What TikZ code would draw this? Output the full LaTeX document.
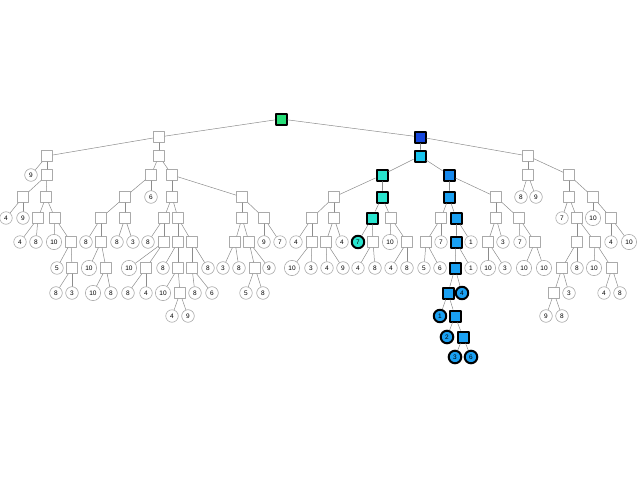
\documentclass[tikz,border=0pt]{standalone}
\usepackage{fontspec}
\setmainfont{Liberation Sans}
\definecolor{hgreen}{RGB}{38,222,120}
\definecolor{hnavy}{RGB}{22,72,222}
\definecolor{hcyan}{RGB}{24,196,238}
\definecolor{hteal}{RGB}{40,228,206}
\definecolor{hblue}{RGB}{26,160,242}
\definecolor{hdeep}{RGB}{22,136,236}
\definecolor{lgray}{RGB}{170,170,170}
\definecolor{egray}{RGB}{140,140,140}
\begin{document}
\begin{tikzpicture}[x=1pt, y=-1pt, line cap=round, line join=round,
    sq/.style={draw=lgray, line width=0.6pt, fill=white, minimum size=11pt, inner sep=0pt},
    hsq/.style={draw=black, line width=2pt, minimum size=11pt, inner sep=0pt},
    lf/.style={circle, draw=lgray, line width=0.6pt, fill=white, inner sep=2.4pt, minimum size=11pt, font=\fontsize{6.5}{7}\selectfont},
    hlf/.style={lf, draw=black, line width=2pt, minimum size=10pt},
    edge/.style={draw=egray, line width=0.5pt}]
    \useasboundingbox (0,0) rectangle (638,479);
    % highlighted path
    \node[hsq, fill=hgreen] (r) at (281,119) {};
    \node[hsq, fill=hnavy] (b) at (420,137) {};
    \node[hsq, fill=hcyan] (b1) at (420,156) {};
    \foreach \n/\x/\y in {t1/382/175, t2/382/197, t3/372/218}
        \node[hsq, fill=hteal] (\n) at (\x,\y) {};
    \node[hsq, fill=hdeep] (v1) at (449,175) {};
    \foreach \n/\x/\y in {v2/449/197, v3/456/218, v4/456/242, v5/455/268, v6/448/293, v7/455/316, v8/463/337}
        \node[hsq, fill=hblue] (\n) at (\x,\y) {};
    \node[hlf, fill=hteal] (lt3) at (358,242) {7};
    \foreach \n/\t/\x/\y in {lv5/4/462/293, lv6/1/440/316, lv7/2/447/337, lv8a/3/455/357, lv8b/6/471/357}
        \node[hlf, fill=hblue] (\n) at (\x,\y) {\t};
    % inner nodes
    \foreach \n/\x/\y in {a/159/137, a1/47/156, a2/159/156, b2/528/156,
        s1/47/175, s2/23/197, s3/46/197, s4/38/218, s5/55/218, s6/71/242, s7/72/268,
        p1/151/175, p2/125/197, p3/101/218, p4/101/242, p5/106/268, p6/125/218,
        q1/172/175, q2/172/197, q3/164/218, q4/164/242, q5/146/268, q6/178/218, q7/178/242,
        q8/192/242, q9/178/268, q10/180/293, q11/192/268, q12/242/197, q13/242/218,
        q14/235/242, q15/249/242, q16/255/268, q17/264/218,
        u1/334/197, u2/312/218, u3/312/242, u4/334/218, u5/326/242, u6/373/242, u7/391/218, u8/407/242,
        w1/441/218, w2/426/242,
        x1/496/197, x2/496/218, x3/488/242, x4/519/218, x5/535/242,
        y1/528/175, y2/569/175, y3/569/197, y4/577/218, y5/577/242, y6/595/242,
        y7/562/268, y8/554/293, y9/612/268, y10/593/197, y11/611/218}
        \node[sq] (\n) at (\x,\y) {};
    % leaves
    \foreach \n/\t/\x/\y in {la1/9/31/175, ls2a/4/6/218, ls2b/9/23/218, ls4a/4/20/242, ls4b/8/36/242,
        ls5/10/54/242, ls6/5/57/268, ls7a/8/56/293, ls7b/3/72/293,
        lp1/6/151/197, lp3/8/86/242, lp4/10/89/268, lp5a/10/93/293, lp5b/8/111/293, lp6a/8/117/242, lp6b/3/133/242,
        lq3/8/148/242, lq4/10/129/268, lq5a/8/128/293, lq5b/4/146/293, lq7/8/163/268, lq9/10/163/293,
        lq10a/4/172/316, lq10b/9/188/316, lq8/8/208/268, lq11a/8/195/293, lq11b/6/212/293,
        lq14a/3/223/268, lq14b/8/239/268, lq15/9/269/268, lq16a/5/246/293, lq16b/8/263/293,
        lq17a/9/264/242, lq17b/7/280/242,
        lu2/4/296/242, lu3a/10/292/268, lu3b/3/311/268, lu4/4/342/242, lu5a/4/327/268, lu5b/9/343/268,
        lu6a/4/358/268, lu6b/8/375/268, lu7/10/390/242, lu8a/4/391/268, lu8b/8/407/268,
        lw1/7/441/242, lw2a/5/424/268, lw2b/6/440/268, lv3/1/471/242, lv4/1/471/268,
        lx2/3/503/242, lx3a/10/488/268, lx3b/3/505/268, lx4/7/520/242, lx5a/10/524/268, lx5b/10/544/268,
        ly1a/8/521/197, ly1b/9/536/197, ly3/7/562/218, ly5/8/577/268, ly6/10/594/268, ly7/3/569/293,
        ly8a/9/546/316, ly8b/8/562/316, ly9a/4/604/293, ly9b/8/620/293, ly10/10/593/218,
        ly11a/4/611/242, ly11b/10/629/242}
        \node[lf] (\n) at (\x,\y) {\t};
    % edges
    \foreach \p/\c in {r/a, r/b, a/a1, a/a2, b/b1, b/b2,
        a1/la1, a1/s1, s1/s2, s1/s3, s2/ls2a, s2/ls2b, s3/s4, s3/s5, s4/ls4a, s4/ls4b,
        s5/ls5, s5/s6, s6/ls6, s6/s7, s7/ls7a, s7/ls7b,
        a2/p1, a2/q1, p1/p2, p1/lp1, p2/p3, p2/p6, p3/lp3, p3/p4, p4/lp4, p4/p5,
        p5/lp5a, p5/lp5b, p6/lp6a, p6/lp6b,
        q1/q2, q1/q12, q2/q3, q2/q6, q3/lq3, q3/q4, q4/lq4, q4/q5, q5/lq5a, q5/lq5b,
        q6/q7, q6/q8, q7/lq7, q7/q9, q9/lq9, q9/q10, q10/lq10a, q10/lq10b,
        q8/q11, q8/lq8, q11/lq11a, q11/lq11b, q12/q13, q12/q17, q13/q14, q13/q15,
        q14/lq14a, q14/lq14b, q15/q16, q15/lq15, q16/lq16a, q16/lq16b, q17/lq17a, q17/lq17b,
        b1/t1, b1/v1, t1/u1, t1/t2, u1/u2, u1/u4, u2/lu2, u2/u3, u3/lu3a, u3/lu3b,
        u4/u5, u4/lu4, u5/lu5a, u5/lu5b, t2/t3, t2/u7, t3/lt3, t3/u6, u6/lu6a, u6/lu6b,
        u7/lu7, u7/u8, u8/lu8a, u8/lu8b,
        v1/v2, v1/x1, v2/w1, v2/v3, w1/w2, w1/lw1, w2/lw2a, w2/lw2b, v3/v4, v3/lv3,
        v4/v5, v4/lv4, v5/v6, v5/lv5, v6/lv6, v6/v7, v7/lv7, v7/v8, v8/lv8a, v8/lv8b,
        x1/x2, x1/x4, x2/x3, x2/lx2, x3/lx3a, x3/lx3b, x4/lx4, x4/x5, x5/lx5a, x5/lx5b,
        b2/y1, b2/y2, y1/ly1a, y1/ly1b, y2/y3, y2/y10, y3/ly3, y3/y4, y4/y5, y4/y6,
        y5/y7, y5/ly5, y7/y8, y7/ly7, y8/ly8a, y8/ly8b, y6/ly6, y6/y9, y9/ly9a, y9/ly9b,
        y10/ly10, y10/y11, y11/ly11a, y11/ly11b}
        \draw[edge] (\p) -- (\c);
\end{tikzpicture}
\end{document}
